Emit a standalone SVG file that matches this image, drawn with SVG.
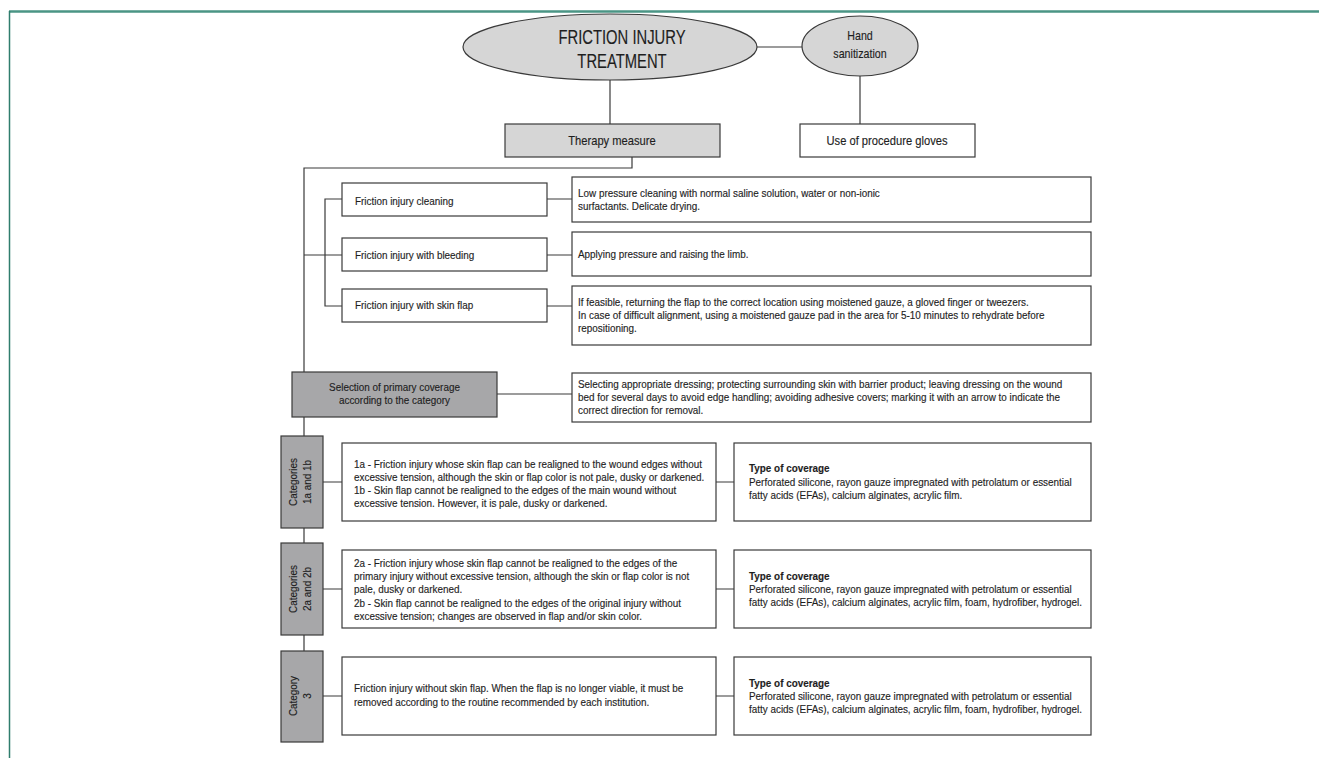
<svg xmlns="http://www.w3.org/2000/svg" width="1319" height="758" viewBox="0 0 1319 758">
<style>
.bx{fill:#fff;stroke:#3a3a3a;stroke-width:1.2}
.g1{fill:#d6d6d6;stroke:#3a3a3a;stroke-width:1.2}
.g2{fill:#a7a7a9;stroke:#3a3a3a;stroke-width:1.2}
.ln{stroke:#3a3a3a;stroke-width:1.2;fill:none}
text{font-family:"Liberation Sans",Arial,sans-serif;fill:#1e1e1e;stroke:#1e1e1e;stroke-width:0.15}
.t{font-size:11px}
.m{font-size:13px}
.b{font-weight:bold}
.big{font-size:20px}
.c{text-anchor:middle}
</style>
<rect x="0" y="0" width="1319" height="758" fill="#fff"/>
<line x1="9" y1="11.5" x2="1319" y2="11.5" stroke="#4a9585" stroke-width="2.5"/>
<line x1="9.5" y1="11" x2="9.5" y2="758" stroke="#2f7d6d" stroke-width="1.5"/>

<g id="connectors">
<path class="ln" d="M757,47 H802"/>
<path class="ln" d="M860,76 V124"/>
<path class="ln" d="M610,80 V124"/>
<path class="ln" d="M632,157 V168 H304 V372"/>
<path class="ln" d="M304,255 H342"/>
<path class="ln" d="M342,199 H325 V306 H342"/>
<path class="ln" d="M547,199 H572 M547,255 H572 M547,306 H572"/>
<path class="ln" d="M497,394 H572"/>
<path class="ln" d="M304,417 V436 M304,528 V543 M304,635 V651"/>
<path class="ln" d="M323,482 H342 M323,589 H342 M323,696 H342"/>
<path class="ln" d="M716,482 H734 M716,589 H734 M716,696 H734"/>
</g>

<g id="title">
<ellipse class="g1" cx="610" cy="47" rx="147" ry="33"/>
<g transform="translate(622,0) scale(0.74,1)"><text class="big c" x="0" y="44">FRICTION INJURY</text><text class="big c" x="0" y="68">TREATMENT</text></g>
</g>
<g id="hand">
<ellipse class="g1" cx="860" cy="46" rx="58" ry="30"/>
<g transform="translate(860,0) scale(0.82,1)"><text class="m c" x="0" y="40">Hand</text><text class="m c" x="0" y="58">sanitization</text></g>
</g>
<g id="gloves">
<rect class="bx" x="800" y="124" width="175" height="33"/>
<g transform="translate(887,0) scale(0.86,1)"><text class="m c" x="0" y="145">Use of procedure gloves</text></g>
</g>
<g id="therapy">
<rect class="g1" x="505" y="124" width="215" height="33"/>
<g transform="translate(612,0) scale(0.86,1)"><text class="m c" x="0" y="145">Therapy measure</text></g>
</g>

<g id="cleaning">
<rect class="bx" x="342" y="183" width="205" height="33"/>
<g transform="translate(355,0) scale(0.9,1)"><text class="t" x="0" y="205">Friction injury cleaning</text></g>
</g>
<g id="bleeding">
<rect class="bx" x="342" y="238" width="205" height="33"/>
<g transform="translate(355,0) scale(0.9,1)"><text class="t" x="0" y="259">Friction injury with bleeding</text></g>
</g>
<g id="skinflap">
<rect class="bx" x="342" y="289" width="205" height="33"/>
<g transform="translate(355,0) scale(0.9,1)"><text class="t" x="0" y="309">Friction injury with skin flap</text></g>
</g>

<g id="cleaning-desc">
<rect class="bx" x="572" y="177" width="519" height="45"/>
<g transform="translate(578,0) scale(0.9,1)"><text class="t" x="0" y="197">Low pressure cleaning with normal saline solution, water or non-ionic</text><text class="t" x="0" y="210">surfactants. Delicate drying.</text></g>
</g>
<g id="bleeding-desc">
<rect class="bx" x="572" y="232" width="519" height="44"/>
<g transform="translate(578,0) scale(0.9,1)"><text class="t" x="0" y="258">Applying pressure and raising the limb.</text></g>
</g>
<g id="skinflap-desc">
<rect class="bx" x="572" y="286" width="519" height="59"/>
<g transform="translate(578,0) scale(0.9,1)"><text class="t" x="0" y="306">If feasible, returning the flap to the correct location using moistened gauze, a gloved finger or tweezers.</text><text class="t" x="0" y="319">In case of difficult alignment, using a moistened gauze pad in the area for 5-10 minutes to rehydrate before</text><text class="t" x="0" y="332">repositioning.</text></g>
</g>

<g id="selection">
<rect class="g2" x="292" y="372" width="205" height="45"/>
<g transform="translate(394.5,0) scale(0.9,1)"><text class="t c" x="0" y="391">Selection of primary coverage</text><text class="t c" x="0" y="404">according to the category</text></g>
</g>
<g id="selection-desc">
<rect class="bx" x="572" y="373" width="519" height="49"/>
<g transform="translate(578,0) scale(0.9,1)"><text class="t" x="0" y="388">Selecting appropriate dressing; protecting surrounding skin with barrier product; leaving dressing on the wound</text><text class="t" x="0" y="401">bed for several days to avoid edge handling; avoiding adhesive covers; marking it with an arrow to indicate the</text><text class="t" x="0" y="414">correct direction for removal.</text></g>
</g>

<g id="cat1">
<rect class="g2" x="281" y="436" width="42" height="92"/>
<g transform="translate(302,482) rotate(-90) scale(0.9,1)"><text class="t c" x="0" y="-5">Categories</text><text class="t c" x="0" y="9">1a and 1b</text></g>
</g>
<g id="cat1-desc">
<rect class="bx" x="342" y="443" width="374" height="78"/>
<g transform="translate(354,0) scale(0.9,1)"><text class="t" x="0" y="468">1a - Friction injury whose skin flap can be realigned to the wound edges without</text><text class="t" x="0" y="481">excessive tension, although the skin or flap color is not pale, dusky or darkened.</text><text class="t" x="0" y="494.5">1b - Skin flap cannot be realigned to the edges of the main wound without</text><text class="t" x="0" y="507.5">excessive tension. However, it is pale, dusky or darkened.</text></g>
</g>
<g id="cat1-cov">
<rect class="bx" x="734" y="443" width="357" height="78"/>
<g transform="translate(749,0) scale(0.9,1)"><text class="t b" x="0" y="472">Type of coverage</text><text class="t" x="0" y="486">Perforated silicone, rayon gauze impregnated with petrolatum or essential</text><text class="t" x="0" y="499">fatty acids (EFAs), calcium alginates, acrylic film.</text></g>
</g>

<g id="cat2">
<rect class="g2" x="281" y="543" width="42" height="92"/>
<g transform="translate(302,589) rotate(-90) scale(0.9,1)"><text class="t c" x="0" y="-5">Categories</text><text class="t c" x="0" y="9">2a and 2b</text></g>
</g>
<g id="cat2-desc">
<rect class="bx" x="342" y="550" width="374" height="78"/>
<g transform="translate(354,0) scale(0.9,1)"><text class="t" x="0" y="567">2a - Friction injury whose skin flap cannot be realigned to the edges of the</text><text class="t" x="0" y="580">primary injury without excessive tension, although the skin or flap color is not</text><text class="t" x="0" y="593.5">pale, dusky or darkened.</text><text class="t" x="0" y="607">2b - Skin flap cannot be realigned to the edges of the original injury without</text><text class="t" x="0" y="620">excessive tension; changes are observed in flap and/or skin color.</text></g>
</g>
<g id="cat2-cov">
<rect class="bx" x="734" y="550" width="357" height="78"/>
<g transform="translate(749,0) scale(0.9,1)"><text class="t b" x="0" y="580">Type of coverage</text><text class="t" x="0" y="593">Perforated silicone, rayon gauze impregnated with petrolatum or essential</text><text class="t" x="0" y="606">fatty acids (EFAs), calcium alginates, acrylic film, foam, hydrofiber, hydrogel.</text></g>
</g>

<g id="cat3">
<rect class="g2" x="281" y="651" width="42" height="91"/>
<g transform="translate(302,696) rotate(-90) scale(0.9,1)"><text class="t c" x="0" y="-5">Category</text><text class="t c" x="0" y="9">3</text></g>
</g>
<g id="cat3-desc">
<rect class="bx" x="342" y="657" width="374" height="78"/>
<g transform="translate(354,0) scale(0.9,1)"><text class="t" x="0" y="692">Friction injury without skin flap. When the flap is no longer viable, it must be</text><text class="t" x="0" y="706">removed according to the routine recommended by each institution.</text></g>
</g>
<g id="cat3-cov">
<rect class="bx" x="734" y="657" width="357" height="78"/>
<g transform="translate(749,0) scale(0.9,1)"><text class="t b" x="0" y="687">Type of coverage</text><text class="t" x="0" y="700">Perforated silicone, rayon gauze impregnated with petrolatum or essential</text><text class="t" x="0" y="713">fatty acids (EFAs), calcium alginates, acrylic film, foam, hydrofiber, hydrogel.</text></g>
</g>
</svg>
